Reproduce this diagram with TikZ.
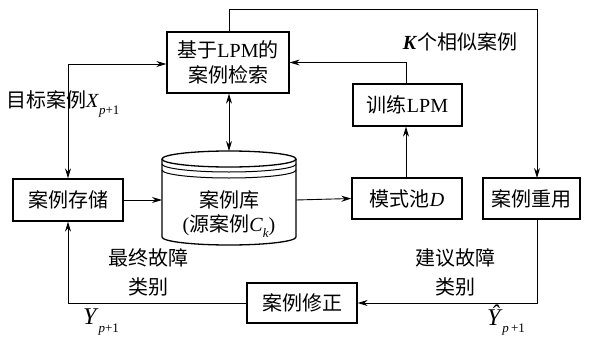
\documentclass[tikz,border=0pt]{standalone}
\usepackage{fontspec}
\setmainfont{Liberation Serif}
\newfontfamily\cjk{Noto Sans CJK SC}
\usetikzlibrary{arrows.meta}
\newcommand{\zh}[1]{{\cjk #1}}
\newcommand{\lowsub}[1]{\raisebox{-0.32em}{\fontsize{13}{13}\selectfont #1}}
\begin{document}
\begin{tikzpicture}[x=1pt,y=-1pt,
  font=\fontsize{20}{27}\selectfont,
  box/.style={draw, line width=1.3pt, inner sep=0pt, align=center},
  arr/.style={line width=0.9pt, -{Stealth[length=10pt,width=6pt]}},
  darr/.style={line width=0.9pt, {Stealth[length=10pt,width=6pt]}-{Stealth[length=10pt,width=6pt]}},
  lab/.style={inner sep=0pt, align=center}]
\useasboundingbox (0,0) rectangle (590,343);
% boxes
\node[box, minimum width=122pt, minimum height=61pt] (ret) at (228,62.5) {\zh{基于}LPM\zh{的}\\[-2pt]\zh{案例检索}};
\node[box, minimum width=109pt, minimum height=42pt] (train) at (407.5,105) {\zh{训练}LPM};
\node[box, minimum width=110pt, minimum height=41pt] (pool) at (407,198.5) {\zh{模式池}\textit{D}};
\node[box, minimum width=97pt, minimum height=41pt] (reuse) at (531.5,198.5) {\zh{案例重用}};
\node[box, minimum width=110pt, minimum height=42pt] (store) at (68,200) {\zh{案例存储}};
\node[box, minimum width=110pt, minimum height=40pt] (revise) at (302,303) {\zh{案例修正}};
% cylinder
\begin{scope}[line width=1.3pt]
\draw (162,159) -- (162,237) arc[start angle=180, end angle=0, x radius=67, y radius=8] -- (296,159);
\draw (229,159) ellipse [x radius=67, y radius=8];
\draw[line width=1pt] (162,164) arc[start angle=180, end angle=0, x radius=67, y radius=8];
\draw[line width=1pt] (162,170) arc[start angle=180, end angle=0, x radius=67, y radius=8];
\end{scope}
\node[lab] (db) at (229,214) {\zh{案例库}\\[-3pt](\zh{源案例}\textit{C}\lowsub{\textit{k}})};
\coordinate (cyltop) at (229,151);
\coordinate (cylleft) at (162,200);
\coordinate (cylright) at (296,200);
\coordinate (tr) at (537,9);
\coordinate (ru) at (537,178);
% connectors
\draw[arr] (ret.north -| cyltop) |- (tr) -- (ru);
\draw[arr] (train.north -| 406,0) |- (ret.east);
\draw[arr] (pool.north -| 406,0) -- (train.south -| 406,0);
\draw[darr] (ret.south -| cyltop) -- (cyltop);
\draw[arr] (store.east) -- (cylleft);
\draw[arr] (cylright) -- (pool.west);
\draw[darr] (store.north) |- (ret.west |- 0,64);
\draw[arr] (reuse.south -| ru) |- (revise.east);
\draw[arr] (revise.west) -| (store.south);
% labels
\node[lab] (lk) at (460,42) {\textit{\textbf{K}}\zh{个相似案例}};
\node[lab, anchor=west] (lx) at (6,104) {\zh{目标案例}\textit{X}\lowsub{\textit{p}+1}};
\node[lab] (lf) at (148,272) {\zh{最终故障}\\[2pt]\zh{类别}};
\node[lab] (ls) at (455,272) {\zh{建议故障}\\[2pt]\zh{类别}};
\node[lab, font=\fontsize{24}{24}\selectfont] (ly) at (101,322) {\textit{Y}\lowsub{\textit{p}+1}};
\node[lab, font=\fontsize{24}{24}\selectfont] (lyh) at (506,320) {\textit{\^Y}\lowsub{\textit{p}\,+1}};
\end{tikzpicture}
\end{document}
